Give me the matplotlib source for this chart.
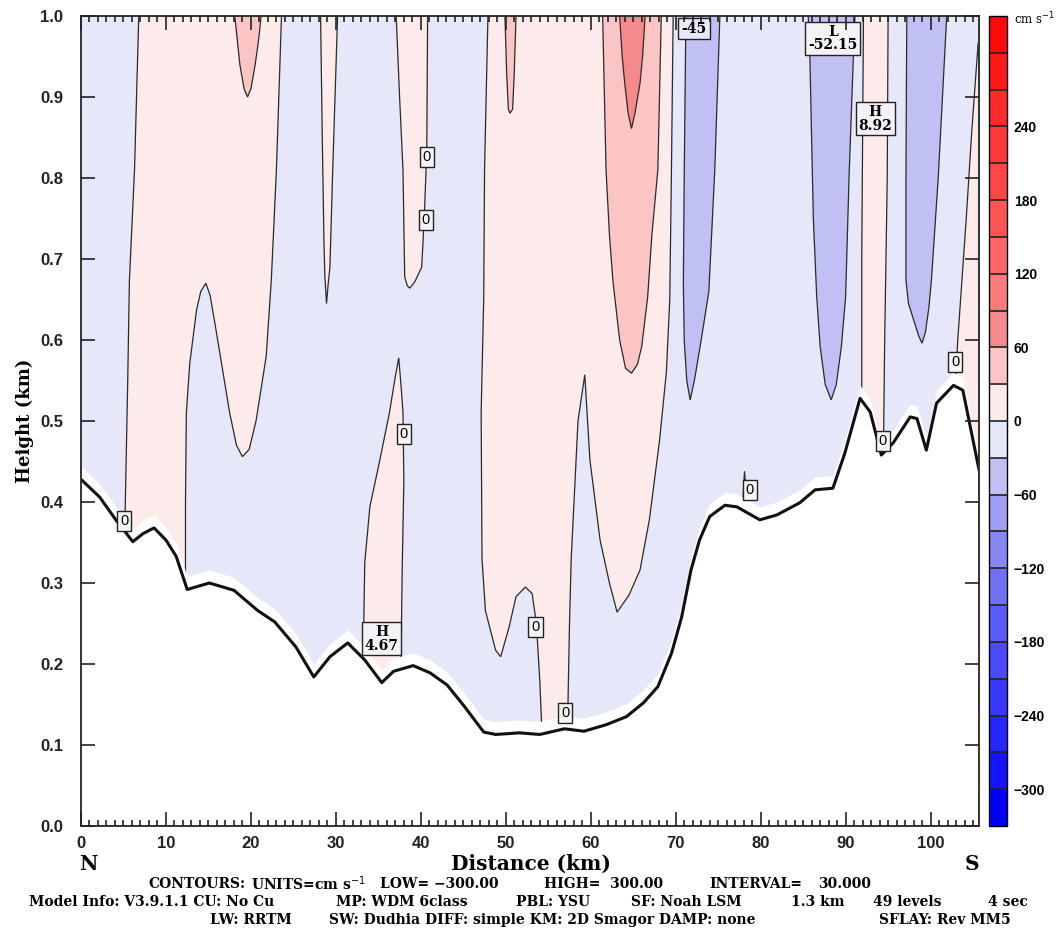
import matplotlib
matplotlib.use("Agg")
import matplotlib.pyplot as plt
from matplotlib.colors import ListedColormap, BoundaryNorm
from matplotlib.cm import ScalarMappable
import numpy as np

# terrain profile along the cross-section (km, km)
terrain_km = [0, 2.2, 4.1, 6.1, 7.3, 8.6, 10.0, 11.2, 12.5, 15.1, 18.0, 20.8, 22.8, 25.3,
              27.4, 29.3, 31.4, 33.4, 35.4, 36.8, 39.1, 41.1, 43.1, 45.1, 47.4, 48.8, 51.6,
              54.0, 56.9, 59.2, 61.8, 64.2, 66.2, 67.9, 69.5, 70.7, 71.8, 72.8, 74.0, 75.8,
              77.2, 79.9, 81.9, 84.6, 86.4, 88.5, 89.9, 91.7, 92.9, 94.2, 95.6, 97.6, 98.4,
              99.5, 100.7, 102.7, 103.8, 105.7]
terrain_h = [0.428, 0.406, 0.378, 0.351, 0.361, 0.368, 0.353, 0.333, 0.292, 0.300, 0.291,
             0.266, 0.252, 0.221, 0.184, 0.209, 0.226, 0.205, 0.177, 0.191, 0.198, 0.189,
             0.174, 0.148, 0.116, 0.113, 0.115, 0.113, 0.120, 0.117, 0.125, 0.135, 0.152,
             0.172, 0.213, 0.258, 0.316, 0.353, 0.382, 0.396, 0.394, 0.378, 0.384, 0.399,
             0.415, 0.417, 0.460, 0.528, 0.511, 0.458, 0.473, 0.505, 0.503, 0.464, 0.522,
             0.544, 0.538, 0.440]

# shaded regions, (distance km, height km)
pos_a = [(5.1, 0.30), (5.2, 0.39), (5.5, 0.55), (5.7, 0.674), (6.3, 0.81), (6.8, 1.0),
         (23.6, 1.0), (23.0, 0.81), (22.4, 0.674), (21.8, 0.58), (20.6, 0.50), (19.8, 0.465),
         (19.0, 0.456), (18.3, 0.47), (17.5, 0.51), (15.9, 0.612), (15.2, 0.655), (14.7, 0.670),
         (14.1, 0.66), (13.6, 0.637), (12.8, 0.571), (12.4, 0.51), (12.3, 0.40), (12.3, 0.25)]
pos_b = [(28.2, 1.0), (28.4, 0.85), (28.6, 0.72), (28.7, 0.68), (28.9, 0.645), (29.1, 0.67),
         (29.3, 0.69), (29.6, 0.80), (30.2, 1.0)]
pos_c = [(37.1, 1.0), (37.5, 0.90), (37.9, 0.81), (38.1, 0.678), (38.4, 0.667), (38.7, 0.664),
         (39.3, 0.672), (40.1, 0.69), (40.4, 0.75), (40.7, 0.835), (40.8, 1.0)]
pos_d = [(33.2, 0.15), (33.3, 0.26), (33.4, 0.325), (34.0, 0.394), (35.1, 0.448), (36.3, 0.51),
         (37.0, 0.555), (37.4, 0.578), (37.7, 0.54), (37.9, 0.51), (38.0, 0.427), (37.8, 0.312),
         (37.6, 0.15)]
pos_e = [(47.9, 1.0), (47.5, 0.81), (47.4, 0.65), (47.1, 0.51), (47.2, 0.33), (47.6, 0.266),
         (48.8, 0.217), (49.4, 0.209), (50.4, 0.246), (51.2, 0.283), (52.3, 0.295), (53.1, 0.287),
         (53.6, 0.25), (54.0, 0.18), (54.2, 0.13), (54.3, 0.08), (57.3, 0.08), (57.3, 0.14),
         (57.5, 0.25), (57.7, 0.33), (58.5, 0.50), (59.3, 0.557), (59.9, 0.452), (61.1, 0.353),
         (62.2, 0.30), (63.1, 0.264), (64.5, 0.285), (65.8, 0.316), (66.9, 0.378), (68.1, 0.476),
         (68.9, 0.56), (69.3, 0.65), (69.5, 0.81), (69.7, 1.0)]
pos_f = [(91.9, 0.42), (91.9, 0.70), (92.1, 1.0), (95.0, 1.0), (94.9, 0.80), (94.6, 0.60),
         (94.4, 0.42)]
pos_g = [(105.8, 0.97), (105.6, 0.967), (104.8, 0.85), (104.2, 0.75), (103.6, 0.66),
         (103.2, 0.60), (103.0, 0.56), (103.0, 0.50), (105.8, 0.40)]
pos_h = [(77.8, 0.38), (78.1, 0.438), (78.5, 0.38)]
pos30_a = [(18.1, 1.0), (18.4, 0.97), (18.7, 0.94), (19.2, 0.91), (19.6, 0.90), (20.0, 0.91),
           (20.5, 0.94), (20.9, 0.97), (21.2, 1.0)]
pos30_b = [(49.9, 1.0), (50.1, 0.93), (50.3, 0.885), (50.5, 0.88), (50.8, 0.885), (51.0, 0.93),
           (51.2, 1.0)]
pos30_c = [(61.4, 1.0), (61.8, 0.81), (62.2, 0.73), (62.6, 0.674), (63.4, 0.60), (64.1, 0.565),
           (64.8, 0.559), (65.5, 0.57), (66.0, 0.592), (66.7, 0.653), (67.2, 0.73), (67.9, 0.81),
           (68.3, 1.0)]
pos60_a = [(63.4, 1.0), (63.7, 0.95), (64.0, 0.917), (64.4, 0.88), (64.8, 0.861), (65.2, 0.88),
           (65.8, 0.917), (66.1, 0.95), (66.4, 1.0)]
neg30_a = [(71.2, 1.0), (71.0, 0.80), (70.9, 0.67), (71.0, 0.60), (71.3, 0.55), (71.7, 0.526),
           (72.2, 0.55), (73.0, 0.60), (73.9, 0.66), (74.6, 0.81), (75.2, 1.0)]
neg30_b = [(85.6, 1.0), (85.8, 0.946), (86.2, 0.75), (86.6, 0.653), (87.0, 0.592), (87.6, 0.545),
           (88.3, 0.526), (88.9, 0.545), (89.5, 0.592), (90.0, 0.653), (90.4, 0.80), (90.9, 0.946),
           (91.1, 1.0)]
neg30_c = [(97.2, 1.0), (97.1, 0.80), (97.1, 0.674), (97.4, 0.645), (98.0, 0.625), (98.6, 0.605),
           (99.0, 0.596), (99.4, 0.61), (99.8, 0.64), (100.1, 0.674), (100.9, 0.80), (101.9, 1.0)]

# contour labels
zero_labels = [(5.1, 0.377), (40.7, 0.826), (40.6, 0.748), (38.0, 0.484), (53.5, 0.246),
               (57.0, 0.140), (78.7, 0.415), (94.4, 0.475), (102.9, 0.573)]
extrema_labels = [(35.4, 0.231, "H\n4.67"), (93.5, 0.873, "H\n8.92"), (88.5, 0.972, "L\n-52.15")]

# colour scale
levels = list(range(-330, 331, 30))
bin_colors = ['#0000ff', '#1414ff', '#2626fc', '#3838fa', '#4a4af8', '#5c5cf6', '#7070f5',
              '#8686f4', '#a0a0f2', '#c0c0f4', '#e6e7f9',
              '#fdeaea', '#fbc5c6', '#f58a8d', '#ff7a7a', '#ff6666', '#ff5555', '#ff4646',
              '#ff3838', '#ff2a2a', '#ff1a1a', '#ff0a0a']
cbar_ticks = [-300, -240, -180, -120, -60, 0, 60, 120, 180, 240]

W, H = 1062, 932
SERIF = "DejaVu Serif"
SANS = "Liberation Sans"
BLUE0, PINK0, PINK30, PINK60, BLUE30 = bin_colors[10], bin_colors[11], bin_colors[12], bin_colors[13], bin_colors[9]
LINE = "#2a2a2a"

fig = plt.figure(figsize=(W / 100, H / 100), dpi=100)
ax = fig.add_axes([81 / W, 1 - 826 / H, (979 - 81) / W, (826 - 16) / H])

ax.fill_between(terrain_km, terrain_h, 1.0, color=BLUE0, lw=0, zorder=1)

regions = [(pos_a, PINK0), (pos_b, PINK0), (pos_c, PINK0), (pos_d, PINK0), (pos_e, PINK0),
           (pos_f, PINK0), (pos_g, PINK0), (pos_h, PINK0),
           (pos30_a, PINK30), (pos30_b, PINK30), (pos30_c, PINK30), (pos60_a, PINK60),
           (neg30_a, BLUE30), (neg30_b, BLUE30), (neg30_c, BLUE30)]
for pts, col in regions:
    xs, ys = zip(*pts)
    ax.fill(xs, ys, facecolor=col, edgecolor=LINE, lw=0.9, zorder=2)

# blank layer next to the ground, then the ground itself
gap = 0.016
ax.fill_between(terrain_km, 0, np.array(terrain_h) + gap, color="white", lw=0, zorder=5)
ax.plot(terrain_km, terrain_h, color="#111111", lw=2.2, zorder=6)

for x, y in zero_labels:
    ax.text(x, y, "0", ha="center", va="center", fontsize=10.5, family=SANS,
            bbox=dict(boxstyle="square,pad=0.2", fc="#f7f3f5", ec="#222222", lw=1.0), zorder=8)
for x, y, s in extrema_labels:
    ax.text(x, y, s, ha="center", va="center", fontsize=10, family=SERIF, linespacing=0.95,
            fontweight="bold",
            bbox=dict(boxstyle="square,pad=0.2", fc="#f4f2f7", ec="#222222", lw=1.0), zorder=8)
ax.text(72.1, 0.984, "-45", ha="center", va="center", fontsize=10, family=SERIF,
        fontweight="bold",
        bbox=dict(boxstyle="square,pad=0.25", fc="#e8e8f6", ec="#222222", lw=1.0), zorder=8,
        clip_on=True)

ax.set_xlim(0, 105.7)
ax.set_ylim(0, 1.0)
ax.set_xticks(range(0, 101, 10))
ax.set_xticks(range(0, 106), minor=True)
ax.set_yticks([i / 10 for i in range(11)])
ax.set_yticklabels(["%.1f" % (i / 10) for i in range(11)])
ax.tick_params(which="both", direction="in", top=True, right=True, width=1.2, colors="#222222")
ax.tick_params(which="major", length=10)
ax.tick_params(which="minor", length=4)
ax.tick_params(axis="x", pad=7)
ax.tick_params(axis="y", pad=13)
ax.xaxis.set_zorder(10)
ax.yaxis.set_zorder(10)
for lab in ax.get_xticklabels() + ax.get_yticklabels():
    lab.set_fontfamily(SANS)
    lab.set_fontweight("bold")
    lab.set_fontsize(12)
    lab.set_color("#222222")
for sp in ax.spines.values():
    sp.set_linewidth(1.4)
    sp.set_color("#333333")
    sp.set_zorder(10)

# colour bar
cax = fig.add_axes([989 / W, 1 - 826 / H, 18 / W, 810 / H])
cmap = ListedColormap(bin_colors)
norm = BoundaryNorm(levels, cmap.N)
cb = fig.colorbar(ScalarMappable(norm=norm, cmap=cmap), cax=cax, drawedges=True, ticks=cbar_ticks)
cb.minorticks_off()
cb.outline.set_linewidth(1.0)
cb.dividers.set_color("#222222")
cb.dividers.set_linewidth(1.2)
cax.tick_params(length=0, pad=5)
for lab in cax.get_yticklabels():
    lab.set_fontfamily(SANS)
    lab.set_fontweight("bold")
    lab.set_fontsize(10)
fig.text(1014 / W, 1 - 19 / H, "cm s$^{-1}$", fontsize=8.5, family=SERIF, va="center")

# axis titles
fig.text(25 / W, 1 - 421 / H, "Height (km)", rotation=90, ha="center", va="center",
         fontsize=13, family=SERIF, fontweight="bold")
fig.text(531 / W, 1 - 864 / H, "Distance (km)", ha="center", va="center",
         fontsize=14.5, family=SERIF, fontweight="bold")
fig.text(88 / W, 1 - 864 / H, "N", ha="center", va="center", fontsize=14.5, family=SERIF,
         fontweight="bold")
fig.text(972 / W, 1 - 864 / H, "S", ha="center", va="center", fontsize=14.5, family=SERIF,
         fontweight="bold")

# footer
footer = [
    (148, 884, "CONTOURS:"), (251, 884, "UNITS=cm s$^{-1}$"), (380, 884, "LOW= \u2212300.00"),
    (544, 884, "HIGH=  300.00"), (709, 884, "INTERVAL="), (818, 884, "30.000"),
    (29, 902, "Model Info: V3.9.1.1 CU: No Cu"), (336, 902, "MP: WDM 6class"),
    (516, 902, "PBL: YSU"), (631, 902, "SF: Noah LSM"), (791, 902, "1.3 km"),
    (873, 902, "49 levels"), (988, 902, "4 sec"),
    (210, 920, "LW: RRTM"), (329, 920, "SW: Dudhia DIFF: simple KM: 2D Smagor DAMP: none"),
    (879, 920, "SFLAY: Rev MM5"),
]
for px, py, s in footer:
    fig.text(px / W, 1 - py / H, s, ha="left", va="center", fontsize=10, family=SERIF,
             fontweight="bold")

fig.savefig("out.png", dpi=100)
